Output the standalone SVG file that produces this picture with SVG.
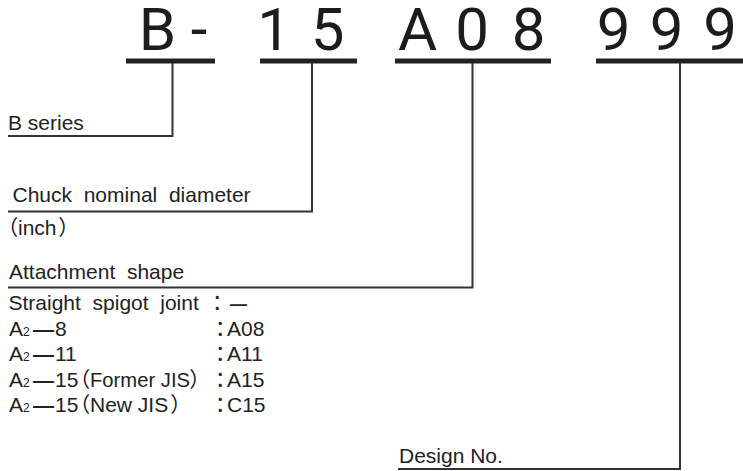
<svg xmlns="http://www.w3.org/2000/svg" width="743" height="471" viewBox="0 0 743 471">
<style>
.code{font-family:Roboto,"DejaVu Sans",sans-serif;font-size:60px;fill:#1c1c1c;text-anchor:middle}
.t{font-family:"Liberation Sans",Arial,sans-serif;font-size:21px;fill:#222}
.cjk{font-family:"Noto Sans CJK JP",sans-serif;font-feature-settings:"palt";font-size:21px}
.sub{font-size:12px}
.dash{font-weight:bold}
.ul{fill:#222}
.ln{stroke:#333;stroke-width:2;fill:none}
</style>
<rect width="743" height="471" fill="#fff"/>
<g id="code">
<text class="code" x="157.5 199 274 327.5 417.5 472 528.5 613.5 666.5 720" y="50">B-15A08999</text>
<rect class="ul" x="126" y="58.5" width="89" height="5"/>
<rect class="ul" x="260" y="58.5" width="97" height="5"/>
<rect class="ul" x="395" y="58.5" width="156" height="5"/>
<rect class="ul" x="596" y="58.5" width="147" height="5"/>
</g>
<g id="connectors">
<path class="ln" d="M172.5 63V136H8"/>
<path class="ln" d="M312 63V211.5H8"/>
<path class="ln" d="M472.5 63V287.5H8"/>
<path class="ln" d="M680 63V469H398"/>
</g>
<g id="b-series">
<text class="t" x="8" y="129.5">B series</text>
</g>
<g id="chuck">
<text class="t" x="12.5" y="202" xml:space="preserve">Chuck  nominal  diameter</text>
<text class="t" y="235"><tspan class="cjk" x="7">（</tspan><tspan x="18">inch</tspan><tspan class="cjk" x="59">）</tspan></text>
</g>
<g id="attachment">
<text class="t" x="9" y="279" xml:space="preserve">Attachment  shape</text>
<text class="t" y="310" xml:space="preserve"><tspan x="8.5">Straight  spigot  joint</tspan><tspan class="cjk" x="212">：</tspan><tspan class="dash" x="230" style="font-size:17px">—</tspan></text>
<text class="t" y="335.5"><tspan x="9">A</tspan><tspan class="sub">2</tspan><tspan class="dash" x="33">—</tspan><tspan x="55">8</tspan><tspan class="cjk" x="215">：</tspan><tspan x="227">A08</tspan></text>
<text class="t" y="361"><tspan x="9">A</tspan><tspan class="sub">2</tspan><tspan class="dash" x="33">—</tspan><tspan x="55">11</tspan><tspan class="cjk" x="215">：</tspan><tspan x="227">A11</tspan></text>
<text class="t" y="386.5"><tspan x="9">A</tspan><tspan class="sub">2</tspan><tspan class="dash" x="33">—</tspan><tspan x="55">15</tspan><tspan class="cjk" x="79">（</tspan><tspan x="90" textLength="100" lengthAdjust="spacingAndGlyphs">Former JIS</tspan><tspan class="cjk" x="190">）</tspan><tspan class="cjk" x="215">：</tspan><tspan x="227">A15</tspan></text>
<text class="t" y="412"><tspan x="9">A</tspan><tspan class="sub">2</tspan><tspan class="dash" x="33">—</tspan><tspan x="55">15</tspan><tspan class="cjk" x="79">（</tspan><tspan x="90">New JIS</tspan><tspan class="cjk" x="171">）</tspan><tspan class="cjk" x="215">：</tspan><tspan x="227">C15</tspan></text>
</g>
<g id="design">
<text class="t" x="399" y="463">Design No.</text>
</g>
</svg>
